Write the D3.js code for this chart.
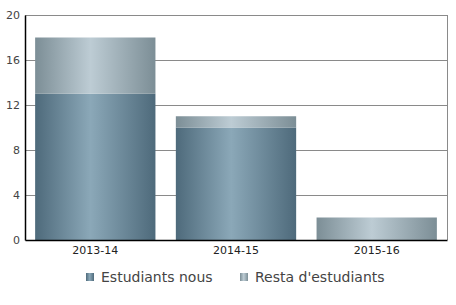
<!DOCTYPE html>
<html><head><meta charset="utf-8">
<script src="https://cdn.jsdelivr.net/npm/d3@7"></script>
<style>body{margin:0;background:#fff;}svg{display:block;font-family:"DejaVu Sans",sans-serif;}</style>
</head><body><svg id="c" width="456" height="305"></svg>
<script>
const categories = ["2013-14", "2014-15", "2015-16"];
const newStudents = [13, 10, 0];
const restStudents = [5, 1, 2];
const seriesNames = ["Estudiants nous", "Resta d'estudiants"];
const yTicks = [0, 4, 8, 12, 16, 20];

const svg = d3.select("#c");
const m = {l: 25, r: 9, t: 15, b: 65};
const W = 456, H = 305;
const x = d3.scaleBand().domain(categories).range([m.l, W - m.r]).paddingInner(0.145).paddingOuter(0.072);
const y = d3.scaleLinear().domain([0, 20]).range([H - m.b, m.t]);

const defs = svg.append("defs");
function grad(id, edge, mid) {
  const g = defs.append("linearGradient").attr("id", id).attr("x1", "0").attr("x2", "1").attr("y1", "0").attr("y2", "0");
  g.append("stop").attr("offset", "0%").attr("stop-color", edge);
  g.append("stop").attr("offset", "46%").attr("stop-color", mid);
  g.append("stop").attr("offset", "100%").attr("stop-color", edge);
}
grad("gNew", "#4e6a7b", "#8ba8b8");
grad("gRest", "#7c8e96", "#bdccd4");

// gridlines
svg.append("g").selectAll("line").data(yTicks.filter(d => d > 0)).join("line")
  .attr("x1", m.l).attr("x2", W - m.r).attr("y1", d => y(d) + 0.5).attr("y2", d => y(d) + 0.5)
  .attr("stroke", "#8a8a8a").attr("stroke-width", 1);
// right border
svg.append("line").attr("x1", W - m.r + 0.5).attr("x2", W - m.r + 0.5).attr("y1", m.t).attr("y2", H - m.b)
  .attr("stroke", "#8a8a8a");

const stackData = categories.map((c, i) => ({c, n: newStudents[i], r: restStudents[i]}));
const g = svg.append("g");
g.selectAll(".new").data(stackData).join("rect")
  .attr("x", d => x(d.c)).attr("width", x.bandwidth())
  .attr("y", d => y(d.n)).attr("height", d => y(0) - y(d.n))
  .attr("fill", "url(#gNew)");
g.selectAll(".rest").data(stackData).join("rect")
  .attr("x", d => x(d.c)).attr("width", x.bandwidth())
  .attr("y", d => y(d.n + d.r)).attr("height", d => y(d.n) - y(d.n + d.r))
  .attr("fill", "url(#gRest)");

// axes
const ya = svg.append("g").attr("transform", `translate(${m.l},0)`)
  .call(d3.axisLeft(y).tickValues(yTicks).tickSize(0).tickPadding(5));
ya.select(".domain").attr("stroke", "#000").attr("stroke-width", 1.5);
ya.selectAll("text").attr("fill", "#444").attr("font-size", 11).attr("font-family", "DejaVu Sans");

const xa = svg.append("g").attr("transform", `translate(0,${H - m.b})`)
  .call(d3.axisBottom(x).tickSize(0).tickPadding(6));
xa.select(".domain").attr("stroke", "#000").attr("stroke-width", 1.5);
xa.selectAll("text").attr("fill", "#222").attr("font-size", 11).attr("font-family", "DejaVu Sans");

// legend
const legend = [{name: seriesNames[0], f: "url(#gNew)", x: 86}, {name: seriesNames[1], f: "url(#gRest)", x: 240}];
const lg = svg.append("g");
lg.selectAll("rect").data(legend).join("rect")
  .attr("x", d => d.x).attr("y", 273).attr("width", 8).attr("height", 8).attr("fill", d => d.f);
lg.selectAll("text").data(legend).join("text")
  .attr("x", d => d.x + 15).attr("y", 282).text(d => d.name)
  .attr("fill", "#444").attr("font-size", 14).attr("font-family", "DejaVu Sans");
</script></body></html>
